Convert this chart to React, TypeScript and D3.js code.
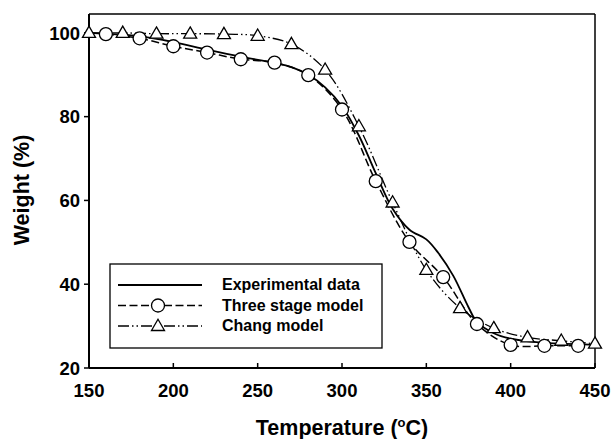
import React from "react";
import * as d3 from "d3";

const expT = [150, 160, 180, 200, 220, 240, 260, 270, 280, 290, 300, 310, 320, 330, 340, 350, 357, 366, 375, 380, 390, 400, 420, 440, 450];
const expW = [100, 99.8, 99.2, 97.8, 96.0, 94.3, 92.8, 91.8, 90.0, 87.0, 82.5, 75.5, 66.5, 58.0, 53.0, 50.7, 47.5, 42.0, 34.5, 31.0, 28.3, 27.0, 26.0, 25.7, 25.5];

const threeT = [160, 180, 200, 220, 240, 260, 280, 300, 320, 340, 360, 380, 400, 420, 440];
const threeW = [99.7, 98.7, 96.8, 95.3, 93.7, 92.9, 89.9, 81.7, 64.6, 50.1, 41.7, 30.5, 25.5, 25.3, 25.3];

const changT = [150, 170, 190, 210, 230, 250, 270, 290, 310, 330, 350, 370, 390, 410, 430, 450];
const changW = [100, 100, 99.8, 99.8, 99.7, 99.3, 97.3, 91.2, 77.7, 59.5, 43.4, 34.3, 29.5, 27.3, 26.5, 25.8];

const xTicks = [150, 200, 250, 300, 350, 400, 450];
const yTicks = [20, 40, 60, 80, 100];

const legendLabels = ["Experimental data", "Three stage model", "Chang model"];

const FONT = "'Liberation Sans', Arial, Helvetica, sans-serif";

export default function App() {
  const left = 89, right = 595, top = 14, bottom = 368;
  const x = d3.scaleLinear().domain([150, 450]).range([left, right]);
  const y = d3.scaleLinear().domain([20, 104.5]).range([bottom, top]);

  const line = d3
    .line<[number, number]>()
    .x((d) => x(d[0]))
    .y((d) => y(d[1]))
    .curve(d3.curveCatmullRom.alpha(0.5));

  const expPts: [number, number][] = expT.map((t, i) => [t, expW[i]]);
  const threePts: [number, number][] = threeT.map((t, i) => [t, threeW[i]]);
  const changPts: [number, number][] = changT.map((t, i) => [t, changW[i]]);

  const dashThree = "8,3.5";
  const dashChang = "11,3,1.5,3,1.5,3";

  const tri = (cx: number, cy: number, s = 13) => {
    const h = s * 0.866;
    return `M${cx},${cy - h * 0.6}L${cx + s / 2},${cy + h * 0.4}L${cx - s / 2},${cy + h * 0.4}Z`;
  };

  const lgX0 = 118, lgX1 = 202, lgMid = 158;
  const lgY = [285, 305.5, 326];

  return (
    <svg
      width={614}
      height={439}
      style={{ position: "absolute", left: 0, top: 0, background: "#fff" }}
      fontFamily={FONT}
    >
      <rect x={0} y={0} width={614} height={439} fill="#fff" />
      {/* frame */}
      <line x1={left} y1={top} x2={right} y2={top} stroke="#000" strokeWidth={1.5} />
      <line x1={right} y1={top} x2={right} y2={bottom} stroke="#000" strokeWidth={1.5} />
      <line x1={left} y1={top} x2={left} y2={bottom} stroke="#000" strokeWidth={2} />
      <line x1={left} y1={bottom} x2={right} y2={bottom} stroke="#000" strokeWidth={2} />

      {/* x ticks */}
      {xTicks.map((t) => (
        <g key={"xt" + t}>
          <line x1={x(t)} x2={x(t)} y1={bottom} y2={bottom - 5} stroke="#000" strokeWidth={1.5} />
          <text x={x(t)} y={397} textAnchor="middle" fontSize={18.5} fontWeight="bold">
            {t}
          </text>
        </g>
      ))}
      {/* y ticks */}
      {yTicks.map((t) => (
        <g key={"yt" + t}>
          <line x1={left} x2={left - 5} y1={y(t)} y2={y(t)} stroke="#000" strokeWidth={1.5} />
          <text x={80} y={y(t) + 6.8} textAnchor="end" fontSize={18.5} fontWeight="bold">
            {t}
          </text>
        </g>
      ))}

      {/* axis titles */}
      <text x={342} y={435} textAnchor="middle" fontSize={21.5} fontWeight="bold">
        Temperature (<tspan dy={-8} fontSize={13}>o</tspan>
        <tspan dy={8}>C)</tspan>
      </text>
      <text
        transform={`translate(28.5,190) rotate(-90)`}
        textAnchor="middle"
        fontSize={21.5}
        fontWeight="bold"
      >
        Weight (%)
      </text>

      {/* curves */}
      <path d={line(expPts) || ""} fill="none" stroke="#000" strokeWidth={1.8} />
      <path d={line(threePts) || ""} fill="none" stroke="#000" strokeWidth={1.5} strokeDasharray={dashThree} />
      <path d={line(changPts) || ""} fill="none" stroke="#000" strokeWidth={1.3} strokeDasharray={dashChang} />

      {/* markers */}
      {threePts.map((p, i) => (
        <circle key={"c" + i} cx={x(p[0])} cy={y(p[1])} r={6.5} fill="#fff" stroke="#000" strokeWidth={1.3} />
      ))}
      {changPts.map((p, i) => (
        <path key={"t" + i} d={tri(x(p[0]), y(p[1]))} fill="#fff" stroke="#000" strokeWidth={1.3} />
      ))}

      {/* legend */}
      <rect x={110} y={264} width={272} height={84} fill="#fff" stroke="#000" strokeWidth={1.3} />
      <line x1={lgX0} x2={lgX1} y1={lgY[0]} y2={lgY[0]} stroke="#000" strokeWidth={1.8} />
      <line x1={lgX0} x2={lgX1} y1={lgY[1]} y2={lgY[1]} stroke="#000" strokeWidth={1.5} strokeDasharray={dashThree} />
      <circle cx={lgMid} cy={lgY[1]} r={6.5} fill="#fff" stroke="#000" strokeWidth={1.3} />
      <line x1={lgX0} x2={lgX1} y1={lgY[2]} y2={lgY[2]} stroke="#000" strokeWidth={1.3} strokeDasharray={dashChang} />
      <path d={tri(lgMid, lgY[2])} fill="#fff" stroke="#000" strokeWidth={1.3} />
      {legendLabels.map((l, i) => (
        <text key={l} x={222} y={lgY[i] + 5.2} fontSize={16} fontWeight="bold">
          {l}
        </text>
      ))}
    </svg>
  );
}
